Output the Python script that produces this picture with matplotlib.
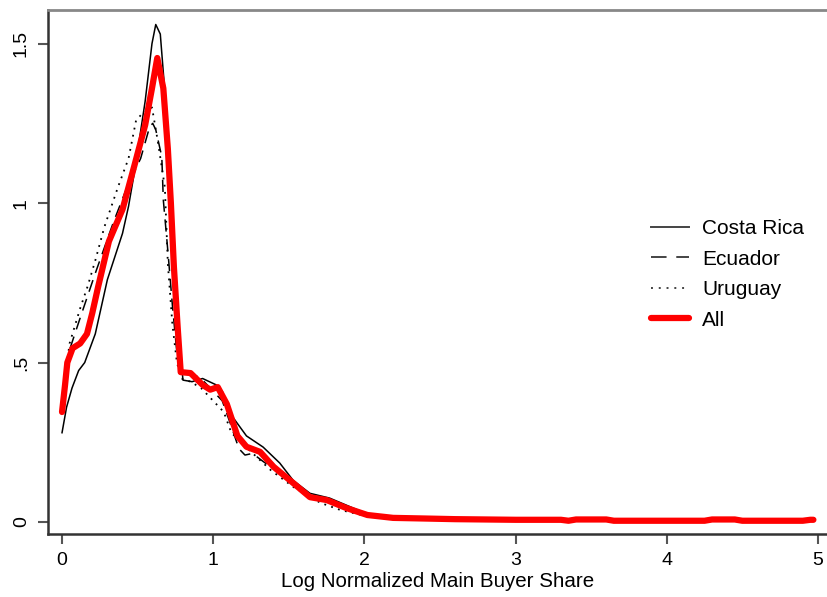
import matplotlib
matplotlib.use("Agg")
from matplotlib import pyplot as plt
import numpy as np

# Costa Rica
x_cr = [0.00, 0.03, 0.066, 0.11, 0.15, 0.22, 0.30, 0.40, 0.44, 0.48, 0.55, 0.595, 0.62, 0.65, 0.68, 0.715,
        0.74, 0.77, 0.80, 0.86, 0.93, 1.02, 1.06, 1.12, 1.22, 1.33, 1.44, 1.53, 1.64, 1.77, 1.88, 2.02, 2.20,
        2.50, 3.00, 4.00, 4.97]
y_cr = [0.28, 0.36, 0.42, 0.475, 0.50, 0.59, 0.76, 0.905, 0.99, 1.10, 1.32, 1.50, 1.56, 1.53, 1.35, 1.12,
        0.85, 0.60, 0.445, 0.44, 0.45, 0.43, 0.41, 0.335, 0.27, 0.235, 0.185, 0.13, 0.09, 0.075, 0.053, 0.025,
        0.012, 0.008, 0.005, 0.003, 0.003]

# Ecuador
x_ec = [0.00, 0.05, 0.12, 0.17, 0.22, 0.28, 0.34, 0.43, 0.52, 0.58, 0.60, 0.62, 0.66, 0.67, 0.70, 0.73,
        0.76, 0.79, 0.85, 0.92, 1.00, 1.06, 1.12, 1.17, 1.21, 1.26, 1.33, 1.42, 1.53, 1.64, 1.75, 1.88, 2.02,
        2.20, 2.50, 3.00, 4.00, 4.97]
y_ec = [0.36, 0.54, 0.64, 0.71, 0.78, 0.86, 0.94, 1.05, 1.14, 1.24, 1.25, 1.23, 1.145, 1.01, 0.85, 0.68,
        0.53, 0.47, 0.467, 0.45, 0.41, 0.38, 0.30, 0.23, 0.21, 0.215, 0.19, 0.16, 0.115, 0.08, 0.065, 0.045,
        0.022, 0.012, 0.008, 0.005, 0.003, 0.003]

# Uruguay
x_ur = [0.00, 0.05, 0.12, 0.17, 0.22, 0.28, 0.37, 0.44, 0.49, 0.53, 0.595, 0.635, 0.68, 0.70, 0.73, 0.76,
        0.79, 0.85, 0.92, 0.98, 1.07, 1.12, 1.24, 1.38, 1.53, 1.71, 1.84, 2.00, 2.20, 2.50, 3.00, 4.00, 4.97]
y_ur = [0.38, 0.56, 0.67, 0.74, 0.82, 0.925, 1.05, 1.14, 1.26, 1.28, 1.30, 1.19, 1.05, 0.81, 0.62, 0.50,
        0.45, 0.44, 0.42, 0.39, 0.345, 0.28, 0.225, 0.163, 0.11, 0.06, 0.038, 0.02, 0.012, 0.008, 0.005,
        0.003, 0.003]

# All
x_all = [0.00, 0.02, 0.035, 0.07, 0.12, 0.165, 0.20, 0.24, 0.31, 0.40, 0.48, 0.55, 0.595, 0.63, 0.67, 0.70,
         0.72, 0.74, 0.765, 0.785, 0.85, 0.93, 0.98, 1.03, 1.09, 1.16, 1.22, 1.31, 1.40, 1.53, 1.64, 1.75,
         1.88, 2.02, 2.19, 2.40, 2.60, 2.80, 3.00, 3.30, 3.35, 3.40, 3.60, 3.65, 4.00, 4.25, 4.30, 4.45, 4.50,
         4.90, 4.95, 4.97]
y_all = [0.345, 0.43, 0.50, 0.545, 0.56, 0.59, 0.655, 0.74, 0.88, 0.98, 1.12, 1.245, 1.36, 1.455, 1.36, 1.17,
         1.00, 0.80, 0.61, 0.47, 0.467, 0.43, 0.415, 0.423, 0.37, 0.27, 0.236, 0.22, 0.173, 0.122, 0.078, 0.069,
         0.044, 0.022, 0.013, 0.011, 0.009, 0.008, 0.007, 0.007, 0.004, 0.008, 0.008, 0.004, 0.004, 0.004,
         0.008, 0.008, 0.004, 0.004, 0.007, 0.007]

xticks = [0, 1, 2, 3, 4, 5]
yticks = [0, 0.5, 1, 1.5]
ylabels = ["0", ".5", "1", "1.5"]

plt.rcParams['font.family'] = ['Liberation Sans', 'DejaVu Sans']

fig = plt.figure(figsize=(8.27, 5.97), dpi=100)
ax = fig.add_axes([0.058, 0.1055, 0.942, 0.8775])

ax.plot(x_cr, y_cr, '-', color='black', linewidth=1.1, label="Costa Rica")
ax.plot(x_ec, y_ec, color='black', linestyle=(0, (8, 5)), linewidth=1.1, label="Ecuador")
ax.plot(x_ur, y_ur, color='black', linestyle=(0, (1, 3)), linewidth=1.3, label="Uruguay")
ax.plot(x_all, y_all, '-', color='#ff0000', linewidth=4.5, solid_capstyle='round', label="All")

ax.set_xlim(-0.093, 5.06)
ax.set_ylim(-0.0376, 1.605)

ax.set_xticks(xticks)
ax.set_yticks(yticks)
ax.set_yticklabels(ylabels, rotation=90, va='center')
ax.tick_params(axis='both', direction='out', length=7, width=1.5, color='#555555', labelsize=14, pad=6)

for s in ['left', 'bottom']:
    ax.spines[s].set_linewidth(1.8)
    ax.spines[s].set_color('#333333')
ax.spines['top'].set_linewidth(2)
ax.spines['top'].set_color('#888888')
ax.spines['right'].set_visible(False)

ax.set_xlabel("Log Normalized Main Buyer Share", fontsize=14.8, labelpad=2)

leg = ax.legend(loc='upper left', bbox_to_anchor=(0.774, 0.601), frameon=False, fontsize=15,
                handlelength=1.85, handletextpad=0.6, labelspacing=0.55, borderpad=0, borderaxespad=0)
for h in leg.get_lines():
    if h.get_label() != "All":
        h.set_color('#444444')
        h.set_linewidth(1.4)

fig.savefig("out.png", dpi=100)
